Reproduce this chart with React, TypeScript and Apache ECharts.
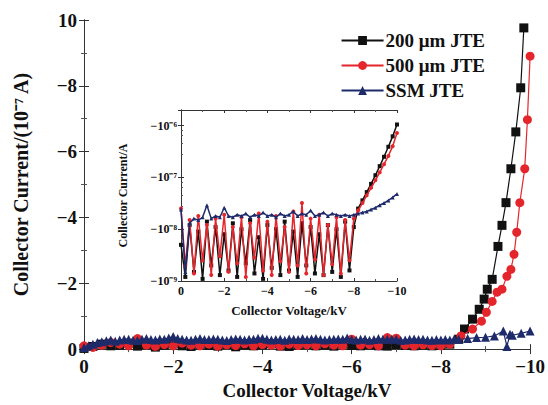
import React, { useEffect, useRef } from "react";
import * as echarts from "echarts";

const seriesNames = ["200 μm JTE", "500 μm JTE", "SSM JTE"];

// Main chart (current in units of 1e-7 A)
const baseV = [0, -0.2, -0.4, -0.6, -0.8, -1.0, -1.2, -1.4, -1.6, -1.8, -2.0, -2.2, -2.4, -2.6, -2.8, -3.0, -3.2, -3.4, -3.6, -3.8, -4.0, -4.2, -4.4, -4.6, -4.8, -5.0, -5.2, -5.4, -5.6, -5.8, -6.0, -6.2, -6.4, -6.6, -6.8, -7.0, -7.2, -7.4, -7.6, -7.8, -8.0];
const blackBase = [-0.02, -0.08, -0.15, -0.1, -0.12, -0.18, -0.09, -0.14, -0.06, -0.12, -0.16, -0.1, -0.08, -0.13, -0.11, -0.09, -0.14, -0.07, -0.12, -0.1, -0.13, -0.16, -0.09, -0.08, -0.12, -0.14, -0.1, -0.12, -0.09, -0.15, -0.11, -0.1, -0.13, -0.1, -0.09, -0.14, -0.11, -0.1, -0.12, -0.1, -0.11];
const redBase = [-0.1, -0.05, -0.12, -0.2, -0.15, -0.1, -0.32, -0.12, -0.08, -0.14, -0.1, -0.18, -0.12, -0.1, -0.15, -0.09, -0.13, -0.11, -0.16, -0.1, -0.14, -0.12, -0.09, -0.15, -0.11, -0.13, -0.1, -0.16, -0.12, -0.1, -0.3, -0.12, -0.14, -0.1, -0.35, -0.33, -0.12, -0.1, -0.13, -0.11, -0.1];
const blueBaseV = [0, -0.1, -0.2, -0.3, -0.4, -0.5, -0.6, -0.7, -0.8, -0.9, -1.0, -1.1, -1.2, -1.3, -1.4, -1.5, -1.6, -1.7, -1.8, -1.9, -2.0, -2.1, -2.2, -2.3, -2.4, -2.5, -2.6, -2.7, -2.8, -2.9, -3.0, -3.1, -3.2, -3.3, -3.4, -3.5, -3.6, -3.7, -3.8, -3.9, -4.0, -4.1, -4.2, -4.3, -4.4, -4.5, -4.6, -4.7, -4.8, -4.9, -5.0, -5.1, -5.2, -5.3, -5.4, -5.5, -5.6, -5.7, -5.8, -5.9, -6.0, -6.1, -6.2, -6.3, -6.4, -6.5, -6.6, -6.7, -6.8, -6.9, -7.0, -7.1, -7.2, -7.3, -7.4, -7.5, -7.6, -7.7, -7.8, -7.9, -8.0];
const blueBase = [-0.05, -0.1, -0.15, -0.2, -0.22, -0.25, -0.28, -0.24, -0.28, -0.3, -0.3, -0.27, -0.26, -0.3, -0.32, -0.29, -0.28, -0.31, -0.3, -0.34, -0.38, -0.32, -0.3, -0.28, -0.27, -0.3, -0.32, -0.29, -0.29, -0.31, -0.3, -0.28, -0.26, -0.29, -0.31, -0.3, -0.28, -0.3, -0.3, -0.33, -0.33, -0.3, -0.28, -0.29, -0.3, -0.27, -0.31, -0.3, -0.29, -0.32, -0.29, -0.31, -0.32, -0.3, -0.28, -0.29, -0.3, -0.31, -0.3, -0.34, -0.29, -0.28, -0.3, -0.31, -0.27, -0.29, -0.32, -0.3, -0.3, -0.31, -0.3, -0.27, -0.28, -0.3, -0.31, -0.29, -0.3, -0.28, -0.27, -0.29, -0.28];

const blackRiseV = [-8.2, -8.4, -8.53, -8.71, -8.86, -8.97, -9.04, -9.15, -9.28, -9.37, -9.46, -9.57, -9.68, -9.79, -9.86];
const blackRiseI = [-0.15, -0.3, -0.61, -0.91, -1.21, -1.52, -1.82, -2.12, -3.12, -3.76, -4.45, -5.48, -6.6, -7.94, -9.76];
const redRiseV = [-8.2, -8.45, -8.71, -8.91, -9.02, -9.15, -9.26, -9.37, -9.48, -9.57, -9.64, -9.7, -9.77, -9.88, -9.94, -10];
const redRiseI = [-0.15, -0.4, -0.61, -0.85, -1.12, -1.45, -1.73, -1.82, -2.21, -2.42, -2.88, -3.55, -4.45, -5.48, -6.97, -8.9];
const blueRiseV = [-8.1, -8.2, -8.3, -8.4, -8.6, -8.8, -9.0, -9.2, -9.4, -9.48, -9.55, -9.6, -9.8, -10];
const blueRiseI = [-0.29, -0.28, -0.31, -0.3, -0.32, -0.35, -0.36, -0.4, -0.55, -0.08, -0.45, -0.42, -0.48, -0.55];

// Inset (|current| in A, log scale)
const insetV = [0, -0.2, -0.4, -0.6, -0.8, -1.0, -1.2, -1.4, -1.6, -1.8, -2.0, -2.2, -2.4, -2.6, -2.8, -3.0, -3.2, -3.4, -3.6, -3.8, -4.0, -4.2, -4.4, -4.6, -4.8, -5.0, -5.2, -5.4, -5.6, -5.8, -6.0, -6.2, -6.4, -6.6, -6.8, -7.0, -7.2, -7.4, -7.6, -7.8, -8.0, -8.2, -8.4, -8.6, -8.8, -9.0, -9.2, -9.4, -9.6, -9.8, -10.0];
const insetBlack = [5e-9, 1.2e-9, 1.2e-8, 1.5e-9, 9e-9, 1.1e-9, 1.4e-8, 2e-9, 1.1e-8, 1.3e-9, 8e-9, 1.6e-9, 1.3e-8, 1.2e-9, 1e-8, 2.2e-9, 1.5e-8, 1.4e-9, 7e-9, 1.1e-9, 1.2e-8, 1.8e-9, 1e-8, 1.3e-9, 1.4e-8, 1.6e-9, 9e-9, 1.2e-9, 1.3e-8, 2e-9, 1.1e-8, 1.4e-9, 8e-9, 1.3e-9, 1.2e-8, 1.5e-9, 1e-8, 1.2e-9, 1.4e-8, 1.6e-9, 1.1e-8, 2.5e-8, 3.6e-8, 5.2e-8, 7.5e-8, 1.1e-7, 1.65e-7, 2.5e-7, 3.9e-7, 6.2e-7, 1.05e-6];
const insetRed = [2.5e-8, 2e-9, 1.5e-8, 1.4e-9, 1.8e-8, 2.5e-9, 1.2e-8, 1.3e-9, 1.6e-8, 3e-9, 1.9e-8, 1.5e-9, 1.1e-8, 2.2e-9, 1.7e-8, 1.2e-9, 1.3e-8, 2.8e-9, 2e-8, 1.6e-9, 1.4e-8, 1.3e-9, 1.8e-8, 2.4e-9, 1.1e-8, 1.5e-9, 2.2e-8, 2e-9, 3.2e-8, 1.4e-9, 1.6e-8, 2.6e-9, 1.9e-8, 1.3e-9, 1.2e-8, 2.1e-9, 1.7e-8, 1.4e-9, 1.5e-8, 2.5e-9, 1.6e-8, 2.3e-8, 3.2e-8, 4.5e-8, 6.3e-8, 8.8e-8, 1.25e-7, 1.8e-7, 2.6e-7, 4e-7, 7.2e-7];
const insetBlue = [2.4e-8, 1.5e-9, 1.3e-8, 1.6e-8, 1.5e-8, 1.7e-8, 2.9e-8, 1.6e-8, 1.8e-8, 1.7e-8, 2.6e-8, 1.8e-8, 1.7e-8, 1.9e-8, 1.8e-8, 2e-8, 1.7e-8, 1.9e-8, 1.8e-8, 2.1e-8, 1.8e-8, 1.9e-8, 1.7e-8, 2e-8, 1.8e-8, 1.9e-8, 2.2e-8, 1.8e-8, 2e-8, 1.9e-8, 2.3e-8, 1.8e-8, 1.9e-8, 2.1e-8, 1.8e-8, 2e-8, 1.9e-8, 1.8e-8, 1.9e-8, 1.8e-8, 1.9e-8, 2e-8, 2.1e-8, 2.2e-8, 2.4e-8, 2.6e-8, 2.9e-8, 3.2e-8, 3.6e-8, 4.1e-8, 4.8e-8];

const COLORS = ["#111111", "#e4252b", "#1e2b6b"];
const SYMBOLS = ["rect", "circle", "triangle"];
const FONT = "Liberation Serif, Times New Roman, serif";

const pair = (xs: number[], ys: number[]) => xs.map((x, i) => [x, ys[i]]);

const SUP: Record<string, string> = { "-": "⁻", "0": "⁰", "1": "¹", "2": "²", "3": "³", "4": "⁴", "5": "⁵", "6": "⁶", "7": "⁷", "8": "⁸", "9": "⁹" };
const sup = (n: number) => String(n).split("").map((c) => SUP[c] || c).join("");
const minus = (v: number) => String(v).replace("-", "−");

export default function App() {
  const ref = useRef<HTMLDivElement>(null);
  useEffect(() => {
    if (!ref.current) return;
    const chart = echarts.init(ref.current, undefined, { renderer: "svg" });
    const axisLine = { show: true, lineStyle: { color: "#333", width: 1 } };
    const labelStyle = { fontFamily: FONT, fontWeight: "bold" as const, fontSize: 19, color: "#111" };
    const insetLabel = { fontFamily: FONT, fontWeight: "bold" as const, fontSize: 12, color: "#111" };
    const tick = { show: true, inside: true, length: 5, lineStyle: { color: "#333" } };
    const minor = { show: true, splitNumber: 2, length: 3, lineStyle: { color: "#555" } };
    const mainData = [
      [...pair(baseV, blackBase), ...pair(blackRiseV, blackRiseI)],
      [...pair(baseV, redBase), ...pair(redRiseV, redRiseI)],
      [...pair(blueBaseV, blueBase), ...pair(blueRiseV, blueRiseI)],
    ];
    const insetData = [insetBlack, insetRed, insetBlue];
    chart.setOption({
      animation: false,
      backgroundColor: "#fff",
      legend: {
        data: seriesNames,
        orient: "vertical",
        right: 58,
        top: 26,
        itemWidth: 42,
        itemHeight: 11,
        itemGap: 6,
        textStyle: { fontFamily: FONT, fontWeight: "bold", fontSize: 19, color: "#111", padding: [0, 0, 0, -3] },
      },
      grid: [
        { left: 84, right: 11, top: 20, bottom: 55, containLabel: false },
        { left: 181, right: 151, top: 110, bottom: 124, containLabel: false },
      ],
      xAxis: [
        {
          gridIndex: 0, type: "value", min: -10, max: 0, interval: 2, inverse: true,
          axisLine, axisTick: tick, minorTick: minor, splitLine: { show: false },
          axisLabel: { ...labelStyle, margin: 8, formatter: minus },
          name: "Collector Voltage/kV", nameLocation: "middle", nameGap: 21,
          nameTextStyle: { fontFamily: FONT, fontWeight: "bold", fontSize: 19, color: "#111" },
        },
        {
          gridIndex: 0, type: "value", min: -10, max: 0, interval: 2, inverse: true, position: "top",
          axisLine, axisTick: tick, minorTick: minor, splitLine: { show: false }, axisLabel: { show: false },
        },
        {
          gridIndex: 1, type: "value", min: -10, max: 0, interval: 2, inverse: true,
          axisLine, axisTick: { ...tick, length: 3 }, minorTick: { ...minor, length: 2 }, splitLine: { show: false },
          axisLabel: { ...insetLabel, margin: 4, formatter: minus },
          name: "Collector Voltage/kV", nameLocation: "middle", nameGap: 23,
          nameTextStyle: { fontFamily: FONT, fontWeight: "bold", fontSize: 13, color: "#111" },
        },
        {
          gridIndex: 1, type: "value", min: -10, max: 0, interval: 2, inverse: true, position: "top",
          axisLine, axisTick: { ...tick, length: 3 }, minorTick: { ...minor, length: 2 }, splitLine: { show: false }, axisLabel: { show: false },
        },
      ],
      yAxis: [
        {
          gridIndex: 0, type: "value", min: -10, max: 0, interval: 2, inverse: true,
          axisLine, axisTick: tick, minorTick: minor, splitLine: { show: false },
          axisLabel: { ...labelStyle, margin: 7, formatter: (v: number) => (v === -10 ? "10" : minus(v)) },
          name: "Collector Current/(10⁻⁷ A)", nameLocation: "middle", nameGap: 53,
          nameTextStyle: { fontFamily: FONT, fontWeight: "bold", fontSize: 20, color: "#111" },
        },
        {
          gridIndex: 0, type: "value", min: -10, max: 0, interval: 2, inverse: true, position: "right",
          axisLine, axisTick: tick, minorTick: minor, splitLine: { show: false }, axisLabel: { show: false },
        },
        {
          gridIndex: 1, type: "log", logBase: 10, min: 1e-9, max: 2e-6,
          axisLine, axisTick: { ...tick, length: 3 }, minorTick: { show: true, splitNumber: 5, length: 2, lineStyle: { color: "#555" } },
          splitLine: { show: false },
          axisLabel: {
            ...insetLabel, margin: 4,
            formatter: (v: number) => {
              const l = Math.log10(v);
              const e = Math.round(l);
              if (Math.abs(l - e) > 0.01) return "";
              return "−10" + sup(e);
            },
          },
          name: "Collector Current/A", nameLocation: "middle", nameGap: 52,
          nameTextStyle: { fontFamily: FONT, fontWeight: "bold", fontSize: 12, color: "#111" },
        },
        {
          gridIndex: 1, type: "log", logBase: 10, min: 1e-9, max: 2e-6, position: "right",
          axisLine, axisTick: { ...tick, length: 3 }, splitLine: { show: false }, axisLabel: { show: false },
        },
      ],
      series: [
        ...seriesNames.map((name, k) => ({
          name, type: "line", xAxisIndex: 0, yAxisIndex: 0,
          data: mainData[k], symbol: SYMBOLS[k], symbolSize: 9, showSymbol: true,
          lineStyle: { color: COLORS[k], width: 1.2 }, itemStyle: { color: COLORS[k] },
          z: 3 + k,
        })),
        ...seriesNames.map((name, k) => ({
          name: "inset " + name, type: "line", xAxisIndex: 2, yAxisIndex: 2,
          data: pair(insetV, insetData[k]), symbol: SYMBOLS[k], symbolSize: 4, showSymbol: true,
          lineStyle: { color: COLORS[k], width: 1.5 }, itemStyle: { color: COLORS[k] },
          z: 3 + k,
        })),
      ],
    });
    return () => chart.dispose();
  }, []);
  return <div ref={ref} style={{ width: 548, height: 405, position: "absolute", left: 0, top: 0 }} />;
}
